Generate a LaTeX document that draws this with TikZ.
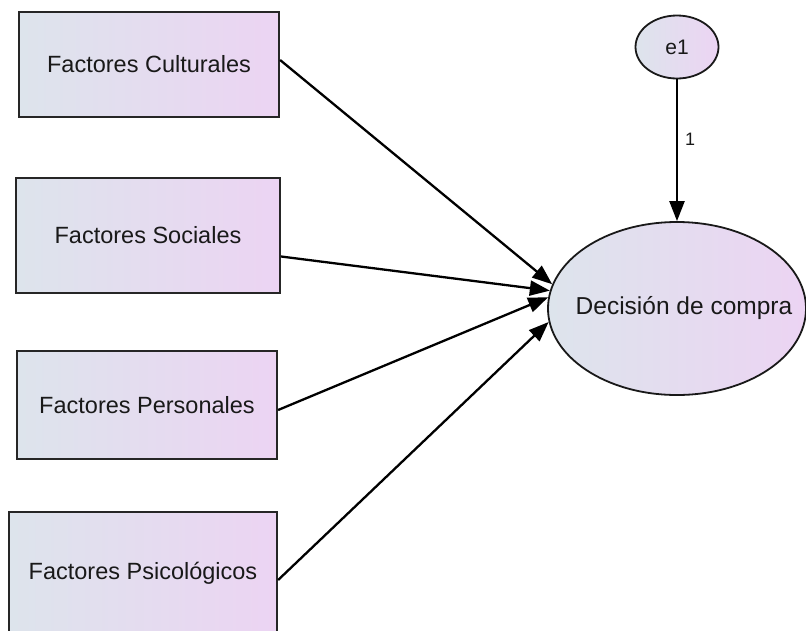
\documentclass[tikz,border=0pt]{standalone}
\usepackage{fontspec}
\setmainfont{Liberation Sans}
\usetikzlibrary{arrows.meta,shapes.geometric}
\definecolor{gleft}{RGB}{221,228,236}
\definecolor{gright}{RGB}{236,212,243}
\definecolor{txt}{RGB}{25,25,25}
\tikzset{
  obsbox/.style={draw=black!85, line width=2.2pt, left color=gleft, right color=gright, shading angle=90,
    inner sep=0pt, text=txt, font=\fontsize{23.5}{28}\selectfont},
  latent/.style={ellipse, draw=black!90, line width=1.8pt, left color=gleft, right color=gright,
    inner sep=0pt, text=txt},
  sempath/.style={line width=2.3pt, -{Triangle[length=20pt,width=15pt]}},
  coeflabel/.style={text=txt, inner sep=0pt, font=\fontsize{18}{20}\selectfont},
}
\begin{document}
\begin{tikzpicture}[x=1pt,y=-1pt]
\useasboundingbox (0,0) rectangle (806,630);
\fill[white] (0,0) rectangle (806,630);
\node[obsbox, minimum width=260pt, minimum height=105pt] (c1) at (149,64.5) {Factores Culturales};
\node[obsbox, minimum width=264pt, minimum height=115pt] (c2) at (148,235.5) {Factores Sociales};
\node[obsbox, minimum width=260pt, minimum height=108pt] (c3) at (147,405) {Factores Personales};
\node[obsbox, minimum width=268pt, minimum height=122pt] (c4) at (143,573) {Factores Psicológicos};
\node[latent, minimum width=258pt, minimum height=173pt] (dec) at (677,308.5) {};
\node[text=txt, font=\fontsize{24.5}{29}\selectfont, inner sep=0pt] (dectext) at (684,308) {Decisión de compra};
\node[latent, minimum width=83pt, minimum height=63pt, font=\fontsize{21}{25}\selectfont] (e1) at (677,47) {e1};
\draw[sempath] ([yshift=4.5pt]c1.east) -- (dec.169.5);
\draw[sempath] ([yshift=-21pt]c2.east) -- (dec.172.5);
\draw[sempath] ([yshift=-5pt]c3.east) -- (dec.175.5);
\draw[sempath] ([yshift=-7pt]c4.east) -- (dec.186);
\draw[sempath] (e1.south) -- (dec.north);
\node[coeflabel] (one) at (690,139) {1};
\end{tikzpicture}
\end{document}
